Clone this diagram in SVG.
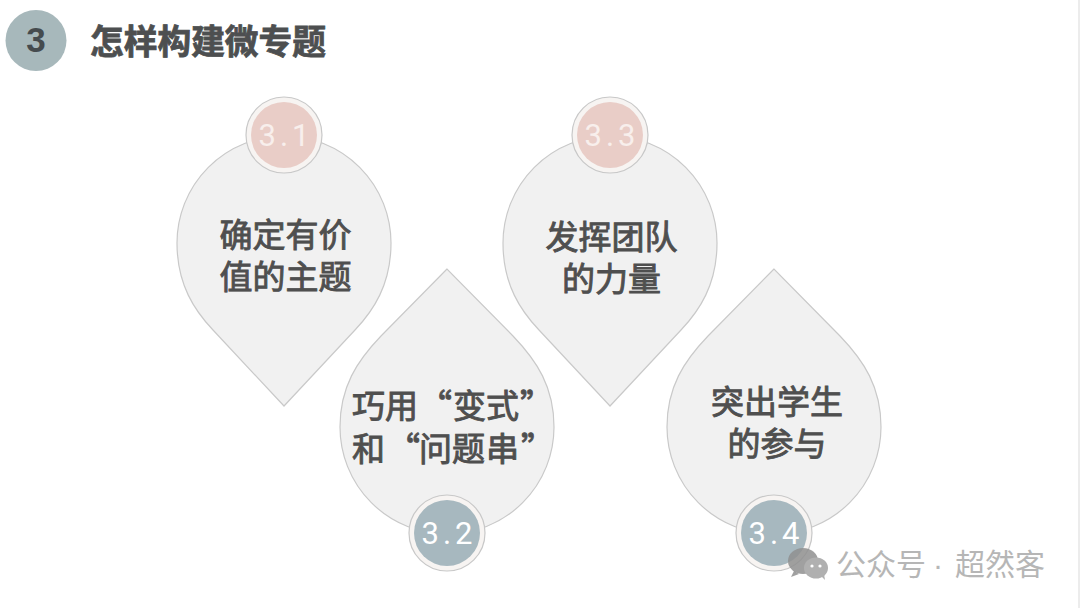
<svg xmlns="http://www.w3.org/2000/svg" width="1080" height="608" viewBox="0 0 1080 608">
<style>
text{font-family:"Noto Sans CJK SC","Noto Sans",sans-serif;text-anchor:middle}
.drop{fill:#f1f1f1;stroke:#c9c9c9;stroke-width:1.2}
.label{font-size:33px;font-weight:400;fill:#4f4f4f;stroke:#4f4f4f;stroke-width:.9}
.start{text-anchor:start}
.halo{fill:#f7f4f2;stroke:#c8c8c8;stroke-width:1.2}
.num{font-family:Roboto,"Liberation Sans",sans-serif;font-size:31px;font-weight:400;letter-spacing:4px}
.pink{fill:#e9cdc7}.blue{fill:#a7b8bf}
.pinkt{fill:#f8efec}.bluet{fill:#fff}
.wm{font-size:30px;fill:#b6b6b6;text-anchor:start}
</style>
<defs>
<path id="dropDown" d="M0 163L-71 87C-89 68 -107 42 -107 0A107 107 0 1 1 107 0C107 42 89 68 71 87Z"/>
<path id="dropUp" d="M0 -158L-66 -91C-90 -66 -107 -40 -107 0A107 107 0 1 0 107 0C107 -40 90 -66 66 -91Z"/>
</defs>
<rect width="1080" height="608" fill="#fff"/>
<rect x="1078" width="2" height="608" fill="#ececec"/>
<g id="header">
<circle cx="36" cy="40.500" r="30.500" fill="#a7b8bb"/>
<text x="36" y="52" style="font-family:'Liberation Sans',Arial,sans-serif;font-size:35px;font-weight:700;fill:#454b4e">3</text>
<text x="208" y="54" style="font-size:33.700px;font-weight:700;fill:#4d4f50;stroke:#4d4f50;stroke-width:.8">怎样构建微专题</text>
</g>
<g id="connectors"></g>
<g id="node-3-1">
<use href="#dropDown" x="284" y="243" class="drop"/>
<circle cx="284" cy="135" r="38" class="halo"/><circle cx="284" cy="135" r="33" class="pink"/>
<text x="286" y="146" class="num pinkt">3.1</text>
<text class="label"><tspan x="285.500" y="247">确定有价</tspan><tspan x="285.500" y="289">值的主题</tspan></text>
</g>
<g id="node-3-3">
<use href="#dropDown" x="610" y="243" class="drop"/>
<circle cx="610" cy="135" r="38" class="halo"/><circle cx="610" cy="135" r="33" class="pink"/>
<text x="612" y="146" class="num pinkt">3.3</text>
<text class="label"><tspan x="611.500" y="249">发挥团队</tspan><tspan x="611.500" y="291">的力量</tspan></text>
</g>
<g id="node-3-2">
<use href="#dropUp" x="447" y="427" class="drop"/>
<circle cx="447" cy="533" r="38" class="halo"/><circle cx="447" cy="533" r="33" class="blue"/>
<text x="449" y="544" class="num bluet">3.2</text>
<text class="label start"><tspan x="352 385 419 453 486 520" y="418">巧用“变式”</tspan><tspan x="352 387 419 452 486 521" y="461">和“问题串”</tspan></text>
</g>
<g id="node-3-4">
<use href="#dropUp" x="774" y="427" class="drop"/>
<circle cx="774" cy="533" r="38" class="halo"/><circle cx="774" cy="533" r="33" class="blue"/>
<text x="776" y="544" class="num bluet">3.4</text>
<text class="label"><tspan x="777" y="414">突出学生</tspan><tspan x="777" y="456">的参与</tspan></text>
</g>
<g id="watermark">
<ellipse cx="803" cy="561" rx="15" ry="13" fill="#8f8f8f" fill-opacity=".85"/>
<path d="M794 571l-3 6 8-3z" fill="#8f8f8f" fill-opacity=".85"/>
<ellipse cx="816" cy="568" rx="12" ry="10.500" fill="#b0b0b0"/>
<path d="M821 576l4 4-1-6z" fill="#b0b0b0"/>
<circle cx="812" cy="566" r="1.600" fill="#fff"/><circle cx="820" cy="566" r="1.600" fill="#fff"/>
<text class="wm" y="575"><tspan x="836">公众号</tspan><tspan x="933" style="font-family:'Liberation Sans',sans-serif">·</tspan><tspan x="955">超然客</tspan></text>
</g>
</svg>
